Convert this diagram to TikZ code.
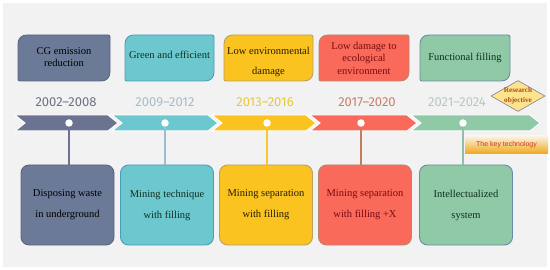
\documentclass[tikz,border=0pt]{standalone}
\usepackage{fontspec}
\setmainfont{Liberation Serif}
\newfontfamily\yearfont{Fira Sans}
\newfontfamily\keyfont{Liberation Sans}
\usetikzlibrary{shapes.geometric}
\definecolor{bg}{HTML}{F2F2F2}
\definecolor{slate}{HTML}{6B7A96}
\definecolor{slateb}{HTML}{5A6682}
\definecolor{teal}{HTML}{6CC8CE}
\definecolor{tealb}{HTML}{4C9CBC}
\definecolor{yel}{HTML}{FAC320}
\definecolor{yelb}{HTML}{B8A068}
\definecolor{coral}{HTML}{F96A5A}
\definecolor{coralb}{HTML}{B8866A}
\definecolor{grn}{HTML}{8FC9A5}
\definecolor{grnb}{HTML}{6A8CA8}
\definecolor{y1}{HTML}{6B7385}
\definecolor{y2}{HTML}{A8BCC8}
\definecolor{y3}{HTML}{E8C840}
\definecolor{y4}{HTML}{C8806A}
\definecolor{y5}{HTML}{B8C8C0}
\definecolor{l1}{HTML}{6B7390}
\definecolor{l2}{HTML}{98BED0}
\definecolor{l3}{HTML}{F5C830}
\definecolor{l4}{HTML}{C08060}
\definecolor{l5}{HTML}{90C0A8}
\definecolor{darkred}{HTML}{7A0A10}
\definecolor{darkgrn}{HTML}{103020}
\definecolor{keytxt}{HTML}{C83A1C}
\definecolor{keytop}{HTML}{FBF3E6}
\definecolor{keymid}{HTML}{F3C38C}
\definecolor{keybot}{HTML}{F0A814}
\definecolor{diafill}{HTML}{FCE48C}
\definecolor{diab}{HTML}{8A7AA0}
\definecolor{diatxt}{HTML}{B04A18}
\newcommand\tbox[4]{%
  \filldraw[fill=#3,draw=#4,line width=0.9pt]
    (#1,44) .. controls (#1,38.6) and (#1+3.4,35) .. (#1+9,35) -- (#2-2,35) .. controls (#2-0.8,35) and (#2,35.8) .. (#2,37)
    -- (#2,72) .. controls (#2,77.4) and (#2-3.4,81) .. (#2-9,81) -- (#1+2,81) .. controls (#1+0.8,81) and (#1,80.2) .. (#1,79) -- cycle;}
\newcommand\chevr[3]{%
  \filldraw[chev,fill=#3] (#1,115) -- (#2-10,115) -- (#2,123) -- (#2-10,131) -- (#1,131) -- (#1+10,123) -- cycle;}
\begin{document}
\begin{tikzpicture}[x=1pt,y=-1pt,
  toptext/.style={align=center,inner sep=0pt},
  yr/.style={font=\yearfont\fontsize{13}{15}\selectfont},
  bot/.style={draw,rounded corners=8pt,minimum width=93pt,minimum height=80pt,line width=0.9pt,align=center,inner sep=0pt,font=\fontsize{10.5}{21}\selectfont},
  dot/.style={circle,fill=white,minimum size=7.5pt,inner sep=0pt},
  conn/.style={line width=1.6pt},
  chev/.style={draw=white,line width=1pt}]
\useasboundingbox (0,0) rectangle (550,270);
\fill[white] (0,0) rectangle (550,270);
\fill[bg] (3,3) rectangle (547,267);
% top boxes
\tbox{18}{110}{slate}{slateb}
\tbox{125}{214}{teal}{tealb}
\tbox{224}{313}{yel}{yelb}
\tbox{319}{409}{coral}{coralb}
\tbox{420}{510}{grn}{grnb}
\node[toptext,font=\fontsize{10.5}{12}\selectfont,text=black] (t1) at (64,57) {CG emission\\reduction};
\node[toptext,font=\fontsize{10.5}{12}\selectfont,text=darkgrn] (t2) at (169.5,55) {Green and efficient};
\node[toptext,font=\fontsize{10.5}{20}\selectfont,text=black!85!yel] (t3) at (268.5,62) {Low environmental\\damage};
\node[toptext,font=\fontsize{10.5}{12.5}\selectfont,text=darkred] (t4) at (364,58) {Low damage to\\ecological\\environment};
\node[toptext,font=\fontsize{10.5}{12}\selectfont,text=darkgrn] (t5) at (465,58) {Functional filling};
% years
\node[yr,text=y1] (yr1) at (66,102) {2002–2008};
\node[yr,text=y2] (yr2) at (165,102) {2009–2012};
\node[yr,text=y3] (yr3) at (265,102) {2013–2016};
\node[yr,text=y4] (yr4) at (367,102) {2017–2020};
\node[yr,text=y5] (yr5) at (457,102) {2021–2024};
% chevrons
\chevr{15}{118}{l1}
\chevr{112}{218}{teal}
\chevr{212}{316}{yel}
\chevr{310}{417}{coral}
\chevr{411}{540}{grn}
% dots
\node[dot] (d1) at (69,123) {};
\node[dot] (d2) at (165,123) {};
\node[dot] (d3) at (267,123) {};
\node[dot] (d4) at (361,123) {};
\node[dot] (d5) at (463,123) {};
% bottom boxes
\node[bot,fill=slate,draw=slateb] (b1) at (67.5,205) {Disposing waste\\in underground};
\node[bot,fill=teal,draw=tealb,text=darkgrn] (b2) at (167,205) {Mining technique\\with filling};
\node[bot,fill=yel,draw=yelb,text=black!85!yel] (b3) at (266,205) {Mining separation\\with filling};
\node[bot,fill=coral,draw=coralb,text=darkred] (b4) at (365,205) {Mining separation\\with filling +X};
\node[bot,fill=grn,draw=grnb,text=darkgrn] (b5) at (466,205) {Intellectualized\\system};
% connectors
\draw[conn,l1] (d1.south) -- (d1.south |- b1.north);
\draw[conn,l2] (d2.south) -- (d2.south |- b2.north);
\draw[conn,l3] (d3.south) -- (d3.south |- b3.north);
\draw[conn,l4] (d4.south) -- (d4.south |- b4.north);
\draw[conn,l5] (d5.south) -- (d5.south |- b5.north);
% research objective
\node[diamond,fill=diafill,draw=diab,line width=0.6pt,minimum width=54pt,minimum height=31pt,inner sep=0pt] (dia) at (518,96) {};
\node[align=center,inner sep=0pt,font=\bfseries\fontsize{7.2}{9.5}\selectfont,text=diatxt] (diat) at (dia.center) {Research\\objective};
% key technology
\node[top color=keytop,middle color=keymid,bottom color=keybot,minimum width=83pt,minimum height=18pt,inner sep=0pt,font=\keyfont\fontsize{7}{8}\selectfont,text=keytxt] (key) at (506.5,145) {The key technology};
\end{tikzpicture}
\end{document}
